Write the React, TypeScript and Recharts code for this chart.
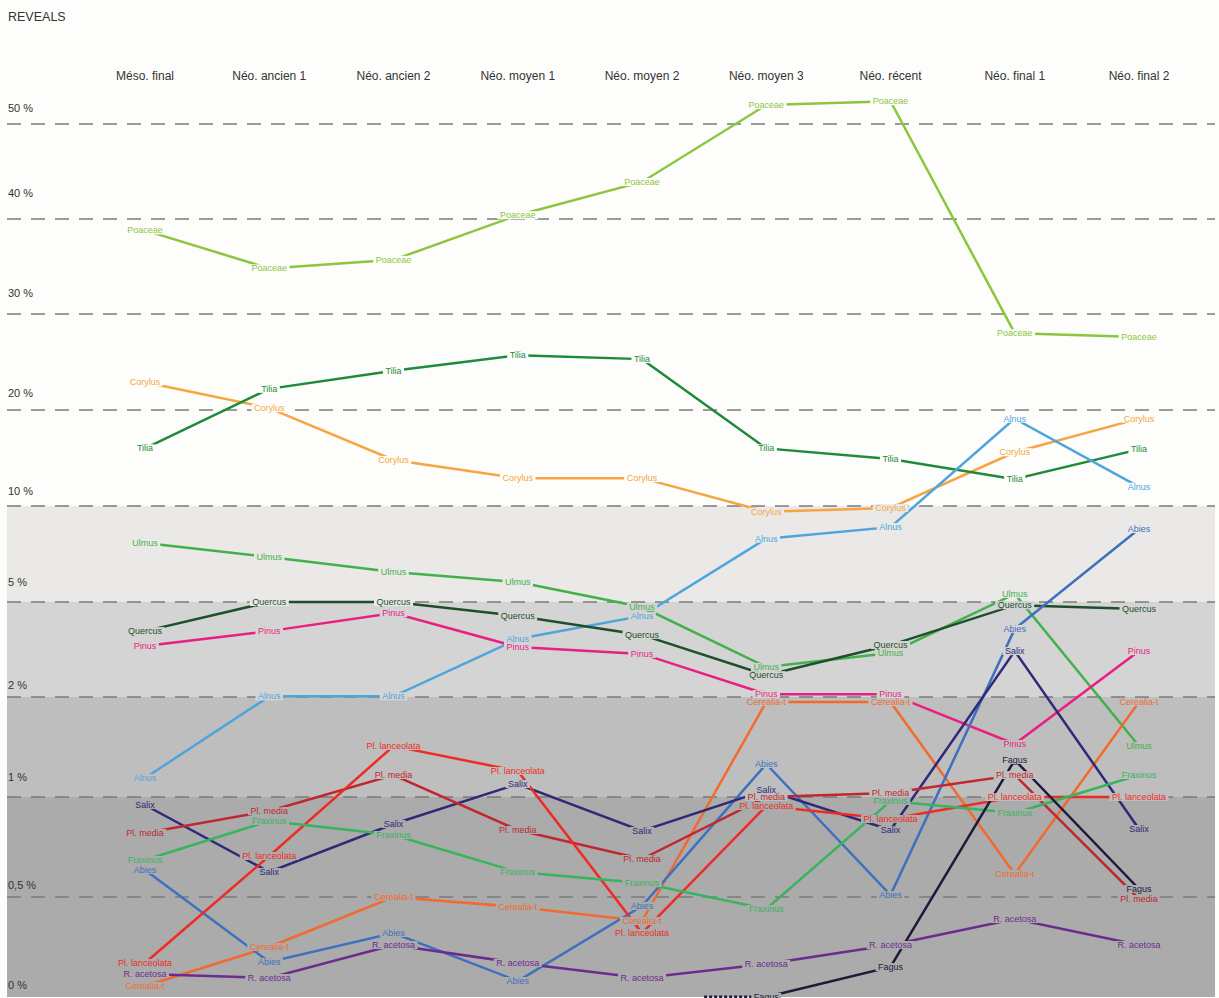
import React from 'react'
import {
  LineChart,
  Line,
  XAxis,
  YAxis,
  ReferenceArea,
  ReferenceLine,
  LabelList,
} from 'recharts'

const periods = [
  'Méso. final', 'Néo. ancien 1', 'Néo. ancien 2', 'Néo. moyen 1', 'Néo. moyen 2',
  'Néo. moyen 3', 'Néo. récent', 'Néo. final 1', 'Néo. final 2',
]

const tickValues = [0, 0.5, 1, 2, 5, 10, 20, 30, 40, 50]
const tickLabels = ['0 %', '0,5 %', '1 %', '2 %', '5 %', '10 %', '20 %', '30 %', '40 %', '50 %']

// values in %, one per period (null = absent)
const poaceae = [38.8, 34.8, 35.7, 40.4, 43.9, 52.0, 52.4, 28.0, 27.6]
const corylus = [22.9, 20.2, 14.8, 12.9, 12.9, 9.7, 9.9, 15.6, 19.1]
const tilia = [16.0, 22.2, 24.1, 25.7, 25.3, 16.0, 14.9, 12.8, 15.9]
const alnus = [1.19, 2.02, 2.02, 3.83, 4.56, 8.3, 8.9, 19.1, 12.0]
const ulmus = [8.07, 7.34, 6.56, 6.04, 4.84, 2.95, 3.39, 5.42, 1.51]
const quercus = [4.08, 5.0, 5.0, 4.56, 3.96, 2.69, 3.64, 4.9, 4.78]
const pinus = [3.61, 4.08, 4.65, 3.58, 3.36, 2.09, 2.09, 1.53, 3.45]
const cerealia = [0.055, 0.25, 0.5, 0.45, 0.38, 1.95, 1.95, 0.615, 1.95]
const abies = [0.635, 0.175, 0.32, 0.08, 0.455, 1.33, 0.51, 4.15, 8.8]
const salix = [0.96, 0.625, 0.865, 1.13, 0.83, 1.07, 0.835, 3.45, 0.84]
const plMedia = [0.82, 0.93, 1.22, 0.835, 0.69, 1.0, 1.04, 1.22, 0.49]
const plLanceolata = [0.17, 0.705, 1.51, 1.26, 0.32, 0.955, 0.89, 1.0, 1.0]
const fraxinus = [0.685, 0.88, 0.81, 0.625, 0.57, 0.44, 0.98, 0.92, 1.22]
const rAcetosa = [0.115, 0.095, 0.26, 0.17, 0.095, 0.165, 0.26, 0.39, 0.26]
const fagus = [null, null, null, null, null, 0, 0.15, 1.37, 0.54]
const fagusTraceX = [4.5, 5]
const fagusTrace = [0, 0]

const series = [
  { name: 'Poaceae', values: poaceae, color: '#8cc63e' },
  { name: 'Corylus', values: corylus, color: '#f7a541' },
  { name: 'Tilia', values: tilia, color: '#1f8a3a' },
  { name: 'Alnus', values: alnus, color: '#4ea5dc' },
  { name: 'Ulmus', values: ulmus, color: '#42b14a' },
  { name: 'Quercus', values: quercus, color: '#1e4f2c' },
  { name: 'Pinus', values: pinus, color: '#ea1e84' },
  { name: 'Cerealia-t', values: cerealia, color: '#f26a2e' },
  { name: 'Abies', values: abies, color: '#3d70bf' },
  { name: 'Salix', values: salix, color: '#2e2979' },
  { name: 'Pl. media', values: plMedia, color: '#c0272e' },
  { name: 'Pl. lanceolata', values: plLanceolata, color: '#ee2b24' },
  { name: 'Fraxinus', values: fraxinus, color: '#37b45e' },
  { name: 'R. acetosa', values: rAcetosa, color: '#6b2b8f' },
  { name: 'Fagus', values: fagus, color: '#1d1a3c' },
]

// broken scale: each tick interval gets its own height on the axis
const scaleStops = [0, 100, 200, 300, 395, 491, 587, 683, 778, 873]
// how far each % label sits above its dashed line
const labelLift = [8, 8, 16, 8, 16, 11, 13, 17, 22, 12]
const bands = [
  { from: 0, to: 1, fill: '#ababab' },
  { from: 1, to: 2, fill: '#bebebe' },
  { from: 2, to: 5, fill: '#d4d4d4' },
  { from: 5, to: 10, fill: '#eae9e7' },
]

const toAxis = (v: number) => {
  let i = 0
  while (i < tickValues.length - 2 && v > tickValues[i + 1]) i++
  const t = (v - tickValues[i]) / (tickValues[i + 1] - tickValues[i])
  return scaleStops[i] + t * (scaleStops[i + 1] - scaleStops[i])
}

const bandFill = (p: number) => {
  const b = bands.find((b) => p >= toAxis(b.from) && p < toAxis(b.to))
  return b ? b.fill : '#fdfdfb'
}

const rows = periods.map((p, i) => {
  const row: Record<string, number | string | null> = { x: i, period: p }
  series.forEach((s) => {
    const v = s.values[i]
    row[s.name] = v == null ? null : toAxis(v)
  })
  return row
})

const traceRows = fagusTraceX.map((x, i) => ({ x, v: toAxis(fagusTrace[i]) }))

const FONT = '"Liberation Sans", Arial, Helvetica, sans-serif'

let ctx: CanvasRenderingContext2D | null = null
const textWidth = (t: string) => {
  if (!ctx) ctx = document.createElement('canvas').getContext('2d')
  if (!ctx) return t.length * 5
  ctx.font = `9px ${FONT}`
  return ctx.measureText(t).width
}

const makeLabel = (name: string, color: string) => (props: any) => {
  const { x, y, value } = props
  if (value == null || x == null || y == null) return null
  const w = textWidth(name) + 5
  return (
    <g>
      <rect x={x - w / 2} y={y - 4} width={w} height={8} fill={bandFill(value)} />
      <text x={x} y={y} textAnchor="middle" dominantBaseline="central" fontSize={9} fontFamily={FONT} fill={color}>
        {name}
      </text>
    </g>
  )
}

const PeriodTick = (props: any) => {
  const { x, payload } = props
  return (
    <text x={x} y={80} textAnchor="middle" fontSize={12} fontFamily={FONT} fill="#333">
      {periods[payload.value]}
    </text>
  )
}

const percentLabel = (i: number) => (props: any) => {
  const vb = props.viewBox || {}
  return (
    <text x={8} y={vb.y - labelLift[i]} textAnchor="start" fontSize={11} fontFamily={FONT} fill="#333">
      {tickLabels[i]}
    </text>
  )
}

const COL0 = 145
const STEP = 124.25
const LEFT = 7
const RIGHT = 1215

export default function App() {
  return (
    <div style={{ position: 'absolute', left: 0, top: 0, width: 1219, height: 998, background: '#fdfdfb', fontFamily: FONT }}>
      <div style={{ position: 'absolute', left: 8, top: 10, fontSize: 12.5, color: '#333' }}>REVEALS</div>
      <LineChart width={1219} height={998} data={rows} margin={{ top: 60, right: 1219 - RIGHT, bottom: 1, left: LEFT }}>
        <XAxis
          type="number"
          dataKey="x"
          orientation="top"
          height={30}
          domain={[(LEFT - COL0) / STEP, (RIGHT - COL0) / STEP]}
          ticks={periods.map((_, i) => i)}
          tick={<PeriodTick />}
          axisLine={false}
          tickLine={false}
        />
        <YAxis type="number" width={0} domain={[0, 907]} ticks={scaleStops} tick={false} axisLine={false} tickLine={false} />
        {bands.map((b) => (
          <ReferenceArea key={b.from} y1={toAxis(b.from)} y2={toAxis(b.to)} fill={b.fill} fillOpacity={1} stroke="none" />
        ))}
        {scaleStops.map((s, i) => (
          <ReferenceLine
            key={s}
            y={s}
            stroke={i === 0 ? 'none' : '#7b7b7b'}
            strokeWidth={1.5}
            strokeDasharray="14 10"
            label={percentLabel(i)}
          />
        ))}
        <Line
          data={traceRows}
          dataKey="v"
          type="linear"
          stroke="#1d1a3c"
          strokeWidth={3}
          strokeDasharray="3 2"
          dot={false}
          isAnimationActive={false}
        />
        {series.map((s) => (
          <Line
            key={s.name}
            dataKey={s.name}
            type="linear"
            stroke={s.color}
            strokeWidth={2.5}
            dot={false}
            isAnimationActive={false}
          >
            <LabelList dataKey={s.name} content={makeLabel(s.name, s.color)} />
          </Line>
        ))}
      </LineChart>
    </div>
  )
}
